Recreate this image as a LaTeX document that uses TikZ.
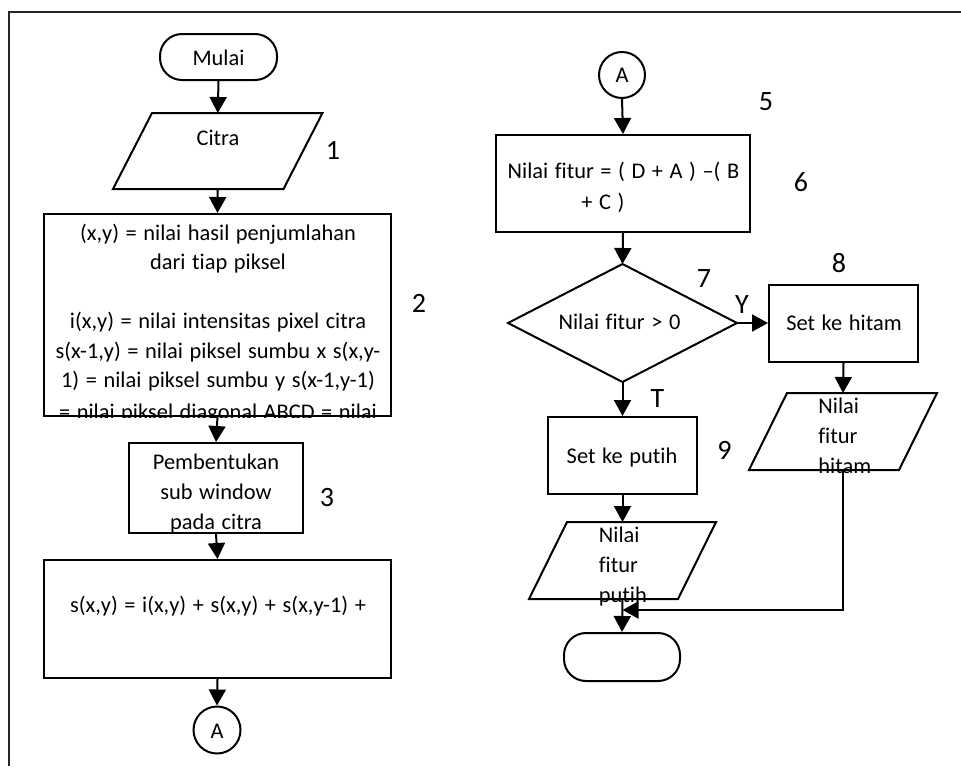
\documentclass[tikz,border=0pt]{standalone}
\usepackage{fontspec}
\setmainfont{Carlito}[WordSpace=1.3, Ligatures=NoCommon]
\usetikzlibrary{arrows.meta}

\newcommand\ioshape[2]{%
  \draw[shp] ([xshift=#2]#1.north west) -- ([xshift=#2]#1.north east)
    -- ([xshift=-#2]#1.south east) -- ([xshift=-#2]#1.south west) -- cycle;}

\begin{document}
\begin{tikzpicture}[
  x=0.5pt, y=-0.5pt,
  font=\fontsize{11.2pt}{14.75pt}\selectfont,
  shp/.style={line width=1pt, black},
  procbox/.style={draw, line width=1pt, rectangle, inner sep=0pt},
  frame/.style={inner sep=0pt, outer sep=0pt},
  termbox/.style={draw, line width=1pt, rectangle, rounded corners=11pt, inner sep=0pt},
  conn/.style={draw, line width=1pt, circle, inner sep=0pt, minimum size=23.5pt},
  txt/.style={inner sep=0pt, anchor=base},
  ltxt/.style={inner sep=0pt, anchor=base west},
  numlbl/.style={inner sep=0pt, anchor=base, font=\fontsize{14pt}{16pt}\selectfont},
  arr/.style={line width=1pt, -{Triangle[length=8pt,width=8.5pt]}}
]
\useasboundingbox (0,0) rectangle (961,766);

% page frame (top and left edges only)
\coordinate (fTL) at (9,12);
\coordinate (fTR) at (961,12);
\coordinate (fBL) at (9,766);
\draw[line width=1pt, black!85] (fTR) -- (fTL) -- (fBL);

% ---------------- left column ----------------
\node[termbox, minimum width=58.5pt, minimum height=23pt] (mulai) at (218.5,57) {};
\node[txt] (mulaiT) at (218.5,65) {Mulai};

\node[frame, minimum width=85.25pt, minimum height=38pt] (citra) at (217.75,151) {};
\ioshape{citra}{9.75pt}
\node[txt] (citraT) at (218,145.5) {Citra};
\node[numlbl] (n1) at (333,159) {1};

\node[procbox, minimum width=173.5pt, minimum height=101pt] (b2) at (217.5,315) {};
\begin{scope}
  \clip (b2.north west) rectangle (b2.south east);
  \node[txt] (b2l1) at (218,240) {(x,y) = nilai hasil penjumlahan};
  \node[txt] (b2l2) at (218,269.5) {dari tiap piksel};
  \node[txt] (b2l3) at (218,328.5) {i(x,y) = nilai intensitas pixel citra};
  \node[txt] (b2l4) at (218,358) {s(x-1,y) = nilai piksel sumbu x s(x,y-};
  \node[txt] (b2l5) at (218,387.5) {1) = nilai piksel sumbu y s(x-1,y-1)};
  \node[txt] (b2l6) at (218,419) {= nilai piksel diagonal ABCD = nilai};
\end{scope}
\node[numlbl] (n2) at (419,312) {2};

\node[procbox, minimum width=87pt, minimum height=45pt] (b3) at (216,488) {};
\node[txt] (b3l1) at (216,469) {Pembentukan};
\node[txt] (b3l2) at (216,499) {sub window};
\node[txt] (b3l3) at (216,529) {pada citra};
\node[numlbl] (n3) at (327,506) {3};

\node[procbox, minimum width=173.5pt, minimum height=59pt] (b4) at (217.5,619) {};
\node[txt] (b4T) at (218,612) {s(x,y) = i(x,y) + s(x,y) + s(x,y-1) +};

\node[conn] (cA) at (217,730) {};
\node[txt] (cAT) at (217,738) {A};

\draw[arr] (mulai.south) -- (citra.north);
\draw[arr] (citra.south) -- (b2.north);
\draw[arr] (b2.south) -- (b3.north);
\draw[arr] (b3.south) -- (b4.north);
\draw[arr] (b4.south) -- (cA.north);

% ---------------- right column ----------------
\node[conn, minimum size=23pt] (cA2) at (622,75) {};
\node[txt] (cA2T) at (622,82) {A};
\node[numlbl] (n5) at (766,110) {5};

\node[procbox, minimum width=127pt, minimum height=48.5pt] (b6) at (623,183.5) {};
\node[txt] (b6l1) at (623.5,178) {Nilai fitur = ( D + A ) –( B};
\node[ltxt] (b6l2) at (581,209) {+ C )};
\node[numlbl] (n6) at (801,191) {6};

\node[frame, minimum width=114.5pt, minimum height=59pt] (dec) at (622.5,323) {};
\draw[shp] (dec.north) -- (dec.east) -- (dec.south) -- (dec.west) -- cycle;
\node[txt] (decT) at (619.5,329) {Nilai fitur > 0};
\node[numlbl] (n7) at (704,287) {7};

\node[procbox, minimum width=74.5pt, minimum height=38.5pt] (b8) at (843.5,323) {};
\node[txt] (b8T) at (844,330) {Set ke hitam};
\node[numlbl] (n8) at (839,272) {8};

\node[frame, minimum width=75pt, minimum height=38.5pt] (hitam) at (843,431.5) {};
\ioshape{hitam}{9.5pt}
\node[ltxt] (hl1) at (818,413) {Nilai};
\node[ltxt] (hl2) at (818,443) {fitur};
\node[ltxt] (hl3) at (818,473) {hitam};

\node[procbox, minimum width=74.5pt, minimum height=38.5pt] (b9) at (622.5,455.5) {};
\node[txt] (b9T) at (622,463) {Set ke putih};
\node[numlbl] (n9) at (724.5,459) {9};

\node[frame, minimum width=74.5pt, minimum height=38.5pt] (putih) at (622.5,560.5) {};
\ioshape{putih}{9.5pt}
\node[ltxt] (pl1) at (598.5,542) {Nilai};
\node[ltxt] (pl2) at (598.5,572) {fitur};
\node[ltxt] (pl3) at (598.5,602) {putih};

\node[termbox, minimum width=58pt, minimum height=24pt] (endT) at (622,657) {};

\coordinate (join) at (622.5,610);

\draw[arr] (cA2.south) -- (b6.north);
\draw[arr] (b6.south) -- (dec.north);
\draw[arr] (dec.east) -- (b8.west);
\node[numlbl] (lblY) at (742,313) {Y};
\draw[arr] (dec.south) -- (b9.north);
\node[numlbl] (lblT) at (657.5,407) {T};
\draw[arr] (b8.south) -- (hitam.north);
\draw[arr] (b9.south) -- (putih.north);
\draw[arr] (putih.south) -- (endT.north);
\draw[arr] (hitam.south) |- (join);
\end{tikzpicture}
\end{document}
